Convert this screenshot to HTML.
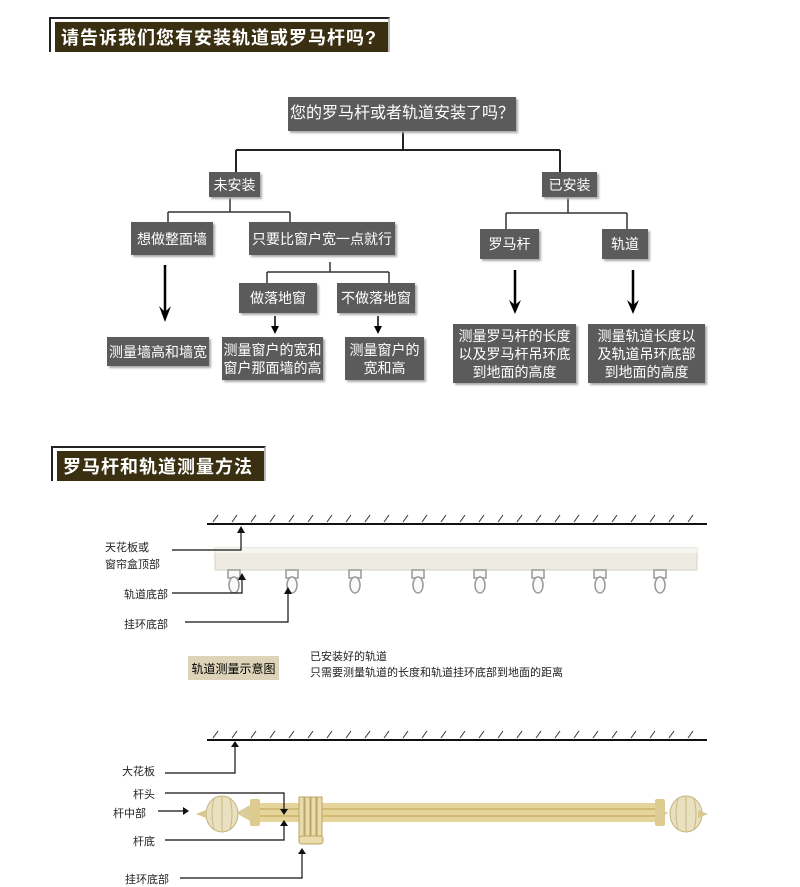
<!DOCTYPE html>
<html><head><meta charset="utf-8"><style>
body{margin:0;background:#fff;width:800px;height:883px;position:relative;overflow:hidden;font-family:"Liberation Sans","Noto Sans CJK SC",sans-serif}
.b{position:absolute;background:#5b5b5b;color:#fff;font-size:14px;display:flex;align-items:center;justify-content:center;text-align:center;line-height:18px;box-shadow:2px 2px 2px #aaa}
.t{position:absolute;font-size:11px;color:#222;white-space:nowrap}
.hd{position:absolute;border:2px solid #222;border-right-color:#bbb;border-bottom:none}
.hd div{background:#3b2f12;color:#fff;font-weight:bold;font-size:18px;letter-spacing:1px;display:flex;align-items:center;padding-left:6px;height:100%}
</style></head><body>
<div class="hd" style="left:49px;top:17px;width:341px;height:35px;padding:3px 0 0 4px;box-sizing:border-box"><div>请告诉我们您有安装轨道或罗马杆吗?</div></div>
<div class="hd" style="left:51px;top:446px;width:215px;height:35px;padding:3px 0 0 4px;box-sizing:border-box"><div>罗马杆和轨道测量方法</div></div>

<svg width="800" height="883" style="position:absolute;left:0;top:0" fill="none">
<g stroke="#222" stroke-width="2">
<path d="M403 131V150M236 150H560M236 150V172M560 150V172"/>
</g>
<g stroke="#333" stroke-width="1.5">
<path d="M230 197V212M168 212H290M168 212V222M290 212V222"/>
<path d="M330 262V272M267 272H389M267 272V283M389 272V283"/>
<path d="M568 197V213M506 213H627M506 213V229M627 213V229"/>
</g>
<g stroke="#000" stroke-width="2.5">
<path d="M165 265V318M515 270V310M633 270V310"/>
</g>
<g fill="#000">
<path d="M159 306L165 322L171 306L165 312Z"/>
<path d="M509 300L515 314L521 300L515 305Z"/>
<path d="M627 300L633 314L639 300L633 305Z"/>
<path d="M271 326L275 334L279 326Z"/><path d="M374 326L378 334L382 326Z"/>
</g>
<path d="M275 316V330M378 316V330" stroke="#000" stroke-width="1.5"/>

<!-- diagram 1 -->
<path d="M207 524H707" stroke="#111" stroke-width="2"/>
<g stroke="#333" stroke-width="1">
<path d="M213 522l5-7M232 522l5-7M251 522l5-7M270 522l5-7M289 522l5-7M308 522l5-7M327 522l5-7M346 522l5-7M365 522l5-7M384 522l5-7M403 522l5-7M422 522l5-7M441 522l5-7M460 522l5-7M479 522l5-7M498 522l5-7M517 522l5-7M536 522l5-7M555 522l5-7M574 522l5-7M593 522l5-7M612 522l5-7M631 522l5-7M650 522l5-7M669 522l5-7M688 522l5-7"/>
</g>
<rect x="215" y="548" width="482" height="22" fill="#eeebe2" stroke="#d6d2c6"/>
<rect x="215" y="548" width="482" height="5" fill="#f7f5ef"/>
<g stroke="#999" stroke-width="1.5" fill="#fafafa">
<rect x="228" y="570" width="12" height="8"/><ellipse cx="234" cy="585" rx="5" ry="8"/>
<rect x="286" y="570" width="12" height="8"/><ellipse cx="292" cy="585" rx="5" ry="8"/>
<rect x="349" y="570" width="12" height="8"/><ellipse cx="355" cy="585" rx="5" ry="8"/>
<rect x="412" y="570" width="12" height="8"/><ellipse cx="418" cy="585" rx="5" ry="8"/>
<rect x="474" y="570" width="12" height="8"/><ellipse cx="480" cy="585" rx="5" ry="8"/>
<rect x="532" y="570" width="12" height="8"/><ellipse cx="538" cy="585" rx="5" ry="8"/>
<rect x="594" y="570" width="12" height="8"/><ellipse cx="600" cy="585" rx="5" ry="8"/>
<rect x="654" y="570" width="12" height="8"/><ellipse cx="660" cy="585" rx="5" ry="8"/>
</g>
<g stroke="#111" stroke-width="1.2">
<path d="M172 550H241V531M172 593H242V578M185 622H288V592"/>
</g>
<g fill="#111"><path d="M237 533L241 526L245 533Z"/><path d="M238 580L242 573L246 580Z"/><path d="M284 594L288 587L292 594Z"/></g>

<!-- diagram 2 -->
<path d="M207 740H707" stroke="#111" stroke-width="2"/>
<g stroke="#333" stroke-width="1">
<path d="M213 738l5-7M232 738l5-7M251 738l5-7M270 738l5-7M289 738l5-7M308 738l5-7M327 738l5-7M346 738l5-7M365 738l5-7M384 738l5-7M403 738l5-7M422 738l5-7M441 738l5-7M460 738l5-7M479 738l5-7M498 738l5-7M517 738l5-7M536 738l5-7M555 738l5-7M574 738l5-7M593 738l5-7M612 738l5-7M631 738l5-7M650 738l5-7M669 738l5-7M688 738l5-7"/>
</g>
<rect x="258" y="803" width="400" height="19" fill="#e6d59a"/>
<path d="M258 809H658M258 816H658" stroke="#c9b26a" stroke-width="1.5"/>
<rect x="250" y="799" width="10" height="27" rx="2" fill="#ddcb90"/>
<rect x="655" y="799" width="10" height="27" rx="2" fill="#ddcb90"/>
<path d="M236 813L250 805V821Z" fill="#dccc9a"/><path d="M668 813L655 805V821Z" fill="#dccc9a"/>
<ellipse cx="222" cy="814" rx="16" ry="18" fill="#e9e0bf" stroke="#c2b27a"/>
<ellipse cx="686" cy="814" rx="16" ry="18" fill="#e9e0bf" stroke="#c2b27a"/>
<path d="M222 797V831M214 799Q210 814 214 829M230 799Q234 814 230 829M686 797V831M678 799Q674 814 678 829M694 799Q698 814 694 829" stroke="#c9b985" stroke-width="1"/>
<path d="M196 814l10-4v8zM708 814l-10-4v8z" fill="#d8c890"/>
<g fill="#eadcaa" stroke="#bba567">
<rect x="299" y="797" width="5" height="40"/><rect x="305" y="797" width="5" height="40"/><rect x="311" y="797" width="5" height="40"/><rect x="317" y="797" width="5" height="40"/>
<rect x="299" y="836" width="24" height="8" rx="3"/>
</g>
<g stroke="#111" stroke-width="1.2">
<path d="M165 773H235V745M165 793H284V811M165 840H284V824M180 878H302V852M158 811H184"/>
</g>
<g fill="#111"><path d="M231 747L235 741L239 747Z"/><path d="M280 809L284 815L288 809Z"/><path d="M280 826L284 820L288 826Z"/><path d="M298 854L302 848L306 854Z"/><path d="M183 807L189 811L183 815Z"/></g>
</svg>

<div class="b" style="left:288px;top:97px;width:228px;height:34px;font-size:16px">您的罗马杆或者轨道安装了吗？</div>
<div class="b" style="left:209px;top:172px;width:51px;height:25px">未安装</div>
<div class="b" style="left:542px;top:172px;width:55px;height:25px">已安装</div>
<div class="b" style="left:131px;top:222px;width:82px;height:33px">想做整面墙</div>
<div class="b" style="left:249px;top:222px;width:146px;height:33px">只要比窗户宽一点就行</div>
<div class="b" style="left:239px;top:283px;width:78px;height:30px">做落地窗</div>
<div class="b" style="left:337px;top:283px;width:78px;height:30px">不做落地窗</div>
<div class="b" style="left:480px;top:229px;width:59px;height:30px">罗马杆</div>
<div class="b" style="left:602px;top:229px;width:46px;height:30px">轨道</div>
<div class="b" style="left:107px;top:337px;width:102px;height:29px">测量墙高和墙宽</div>
<div class="b" style="left:222px;top:337px;width:101px;height:43px">测量窗户的宽和<br>窗户那面墙的高</div>
<div class="b" style="left:345px;top:337px;width:79px;height:43px">测量窗户的<br>宽和高</div>
<div class="b" style="left:453px;top:324px;width:123px;height:59px">测量罗马杆的长度<br>以及罗马杆吊环底<br>到地面的高度</div>
<div class="b" style="left:588px;top:324px;width:117px;height:59px">测量轨道长度以<br>及轨道吊环底部<br>到地面的高度</div>

<div class="t" style="left:105px;top:539px">天花板或</div>
<div class="t" style="left:105px;top:556px">窗帘盒顶部</div>
<div class="t" style="left:124px;top:586px">轨道底部</div>
<div class="t" style="left:124px;top:616px">挂环底部</div>
<div style="position:absolute;left:188px;top:656px;width:91px;height:24px;background:#dcd3b8;font-size:12px;display:flex;align-items:center;justify-content:center">轨道测量示意图</div>
<div class="t" style="left:310px;top:648px">已安装好的轨道</div>
<div class="t" style="left:310px;top:664px">只需要测量轨道的长度和轨道挂环底部到地面的距离</div>

<div class="t" style="left:122px;top:763px">大花板</div>
<div class="t" style="left:133px;top:786px">杆头</div>
<div class="t" style="left:113px;top:805px">杆中部</div>
<div class="t" style="left:133px;top:833px">杆底</div>
<div class="t" style="left:125px;top:871px">挂环底部</div>
</body></html>
